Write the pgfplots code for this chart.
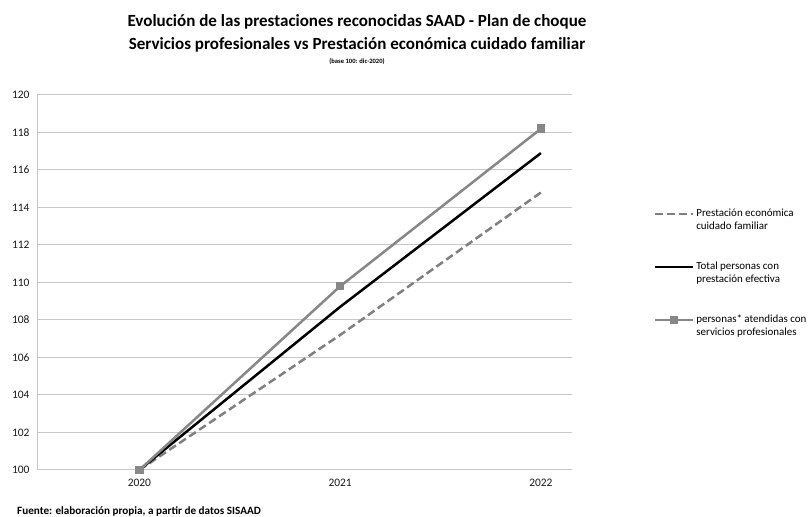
\documentclass[border=0pt]{standalone}
\usepackage{fontspec}
\setmainfont{Carlito}
\usepackage{pgfplots}
\pgfplotsset{compat=1.18}
\definecolor{gridc}{RGB}{200,200,200}
\definecolor{dashc}{RGB}{128,128,128}
\definecolor{grayc}{RGB}{135,135,135}
\begin{document}
\begin{tikzpicture}[x=1bp,y=1bp]
\useasboundingbox (0,0) rectangle (808,517);
\begin{axis}[
  at={(37bp,47bp)}, anchor=south west,
  scale only axis, width=535bp, height=375bp,
  xmin=-0.51, xmax=2.155, ymin=100, ymax=120,
  xtick={0,1,2}, xticklabels={2020,2021,2022},
  ytick={100,102,...,120},
  ymajorgrids, grid style={gridc, line width=1bp},
  axis x line*=bottom, axis y line*=left,
  x axis line style={draw=none}, y axis line style={gridc, line width=1bp},
  major tick length=0pt,
  tick label style={font=\fontsize{11.5}{13}\selectfont, text=black!90},
  /pgf/number format/assume math mode=true,
  yticklabel style={xshift=-4bp},
  xticklabel style={yshift=-6bp},
  legend style={at={(1.147,0.707)}, anchor=north west, draw=none, fill=none,
    font=\fontsize{11}{13}\selectfont, cells={align=left, anchor=west},
    row sep=27bp, /tikz/every even column/.append style={column sep=1bp}},
  legend image code/.code={%
    \path[draw=none, fill=none] (0bp,-7bp) circle (0pt);
    \draw[mark repeat=2, mark phase=2, #1] plot coordinates {(0bp,6bp) (19bp,6bp) (38bp,6bp)};},
  clip=false,
]
\addplot[dashc, line width=2.5bp, dash pattern=on 8bp off 4bp] coordinates {(0,100) (1,107.2) (2,114.8)};
\addlegendentry{Prestación económica\\cuidado familiar}
\addplot[black, line width=2.5bp] coordinates {(0,100) (1,108.7) (2,116.9)};
\addlegendentry{Total personas con\\prestación efectiva}
\addplot[grayc, line width=2.5bp, mark=square*, mark size=3bp, mark options={solid}] coordinates {(0,100) (1,109.8) (2,118.2)};
\addlegendentry{personas* atendidas con\\servicios profesionales}
\end{axis}
\node[font=\bfseries\fontsize{17.1}{20}\selectfont] at (357,495) {Evolución de las prestaciones reconocidas SAAD - Plan de choque};
\node[font=\bfseries\fontsize{17.1}{20}\selectfont] at (357,472) {Servicios profesionales vs Prestación económica cuidado familiar};
\node[font=\bfseries\fontsize{6.6}{8}\selectfont] at (357,455) {(base 100: dic-2020)};
\node[font=\bfseries\fontsize{11.2}{13}\selectfont, anchor=west, inner sep=0pt] at (17,6) {Fuente: elaboración propia, a partir de datos SISAAD};
\end{tikzpicture}
\end{document}
